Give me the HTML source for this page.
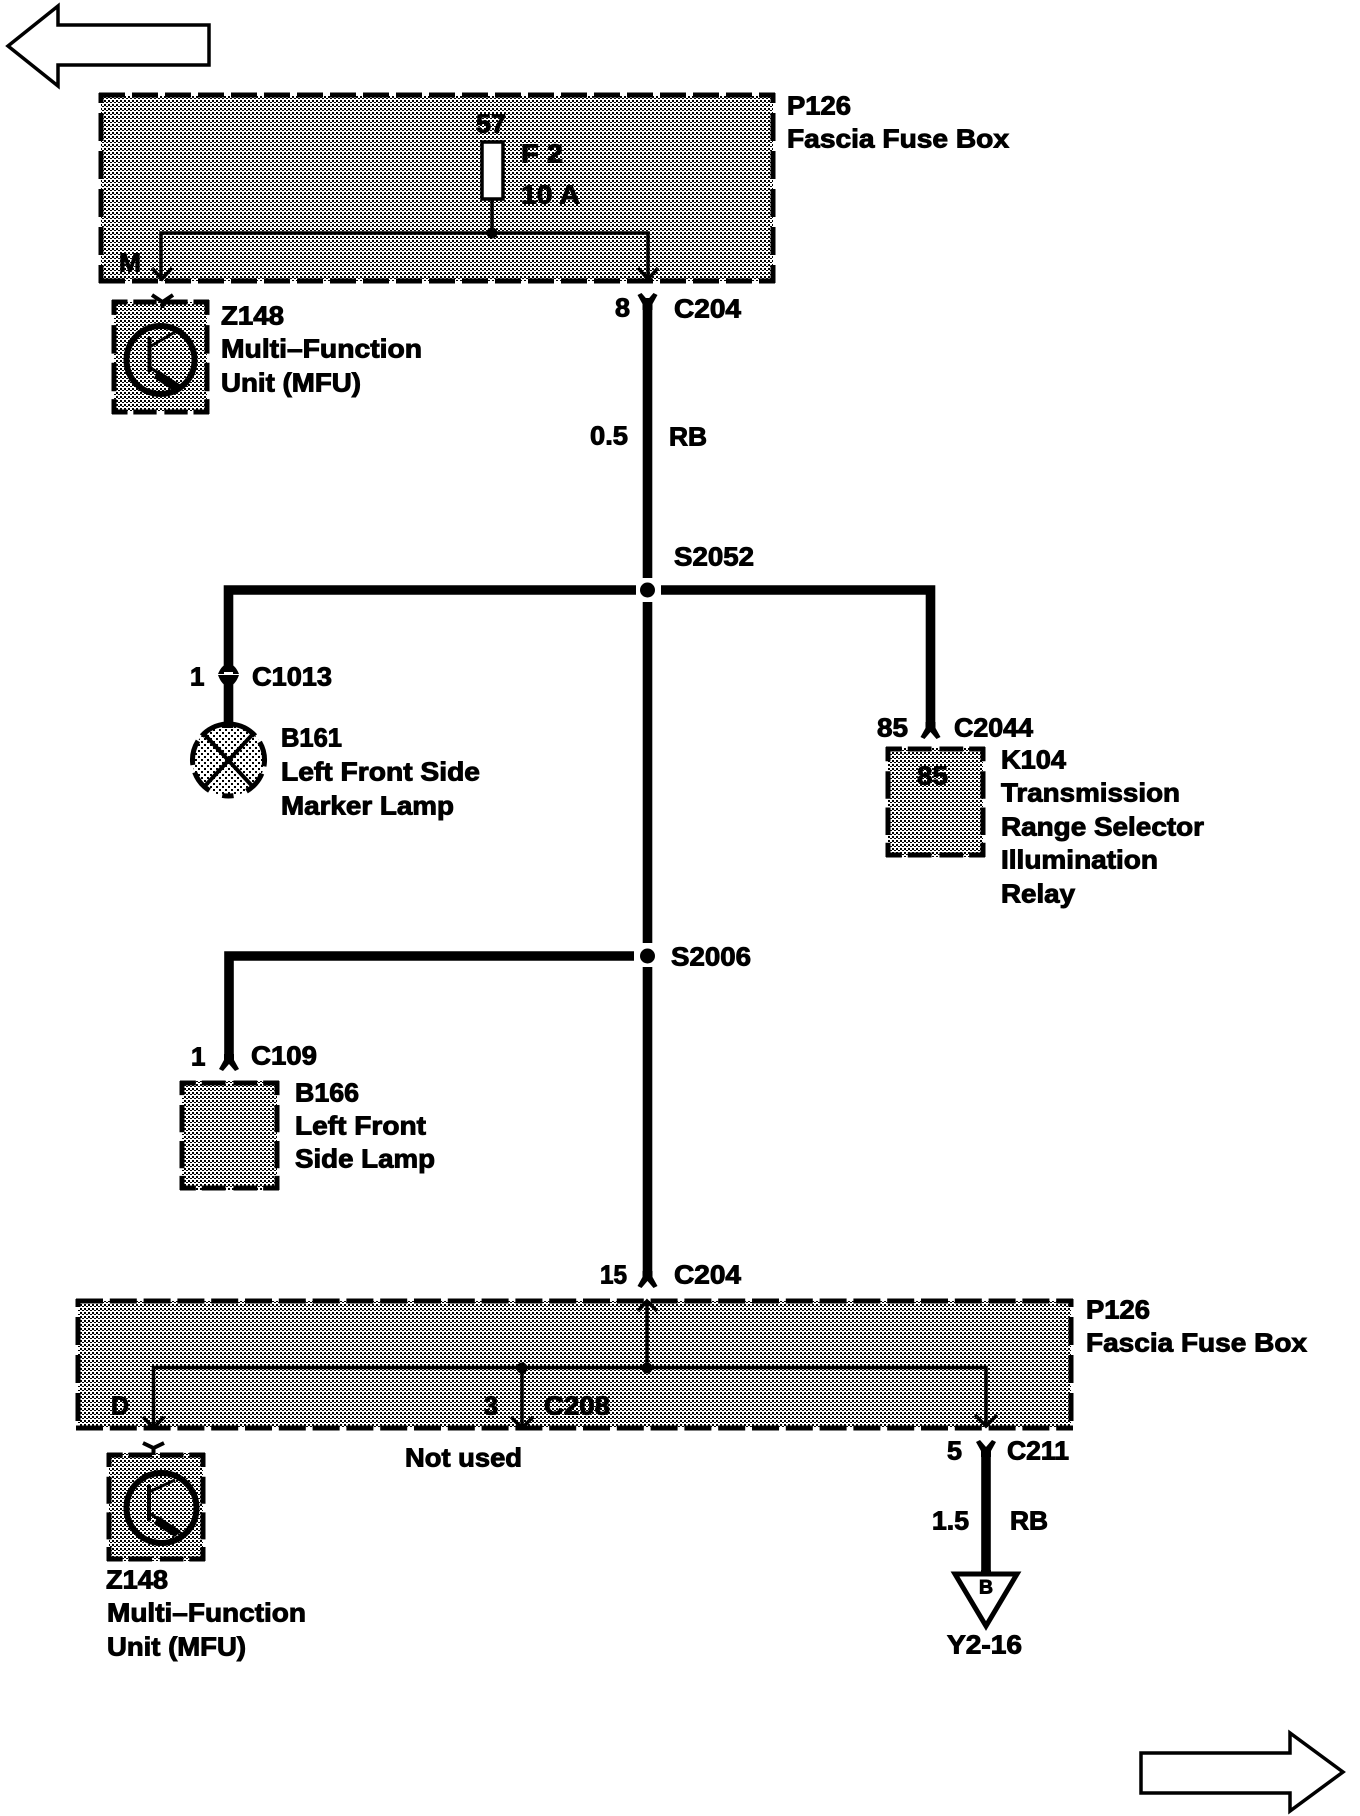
<!DOCTYPE html>
<html><head><meta charset="utf-8"><style>
html,body{margin:0;padding:0;background:#fff}
svg{display:block}
text{font-family:"Liberation Sans",sans-serif;font-weight:bold;font-size:26px;fill:#000;stroke:#000;stroke-width:.95px;transform:translate(-1px,-.5px)}
</style></head><body>
<svg xmlns="http://www.w3.org/2000/svg" width="1360" height="1816" viewBox="0 0 1360 1816">
<defs>
<pattern id="d" width="4" height="4" patternUnits="userSpaceOnUse"><path d="M0 0h2v2H0zM2 2h2v1H2z" fill="#000" shape-rendering="crispEdges"/></pattern>
<pattern id="l" width="6" height="6" patternUnits="userSpaceOnUse"><path d="M0 0h2v2H0zM3 3h2v2H3z" fill="#000" shape-rendering="crispEdges"/></pattern>
<path id="y" d="M-10 1L-6 -1L0 6L6 -1L10 1L5 10V16H-5V10Z" fill="#000"/>
</defs>
<rect width="1360" height="1816" fill="#fff"/>

<!-- page arrows -->
<path d="M8 46L58 6V25H209V65H58V86Z" fill="#fff" stroke="#000" stroke-width="3.5"/>
<path d="M1343 1772L1290 1733V1753H1141V1793H1290V1811Z" fill="#fff" stroke="#000" stroke-width="3.5"/>

<!-- top fuse box -->
<rect x="101" y="95" width="672" height="186" fill="#fff"/>
<rect x="101" y="95" width="672" height="186" fill="url(#d)"/>
<g stroke="#000" stroke-width="5" fill="none">
<line x1="99" y1="95" x2="775" y2="95" stroke-dasharray="26 7"/>
<line x1="99" y1="281" x2="775" y2="281" stroke-dasharray="26 7"/>
<line x1="101" y1="93" x2="101" y2="283" stroke-dasharray="10 10 28 10 28 10 28 10 28 10 28"/>
<line x1="773" y1="93" x2="773" y2="283" stroke-dasharray="10 10 28 10 28 10 28 10 28 10 28"/>
</g>
<rect x="482" y="142" width="21" height="57" fill="#fff" stroke="#000" stroke-width="3.5"/>
<path d="M492 199V233M161 281V233H648V281" fill="none" stroke="#000" stroke-width="3.5"/>
<circle cx="492" cy="233" r="5.5"/>
<path d="M152 268L162 279L172 268M638 268L648 279L658 268" fill="none" stroke="#000" stroke-width="3.5"/>
<text x="477" y="133" textLength="30" lengthAdjust="spacingAndGlyphs">57</text>
<text x="522" y="163" textLength="42" lengthAdjust="spacingAndGlyphs">F 2</text>
<text x="522" y="204" textLength="59" lengthAdjust="spacingAndGlyphs">10 A</text>
<text x="120" y="272" textLength="22" lengthAdjust="spacingAndGlyphs">M</text>
<text x="788" y="115" textLength="64" lengthAdjust="spacingAndGlyphs">P126</text>
<text x="788" y="148" textLength="222" lengthAdjust="spacingAndGlyphs">Fascia Fuse Box</text>

<!-- Z148 top -->
<rect x="114" y="302" width="93" height="110" fill="url(#d)"/>
<g stroke="#000" stroke-width="5" fill="none">
<line x1="112" y1="302" x2="209" y2="302" pathLength="100" stroke-dasharray="16 6 24 8 24 6 16"/>
<line x1="112" y1="412" x2="209" y2="412" pathLength="100" stroke-dasharray="16 6 24 8 24 6 16"/>
<line x1="114" y1="300" x2="114" y2="414" pathLength="100" stroke-dasharray="13 9 25 8 25 7 13"/>
<line x1="207" y1="300" x2="207" y2="414" pathLength="100" stroke-dasharray="13 9 25 8 25 7 13"/>
<circle cx="160.500" cy="360" r="34" stroke-width="6"/>
<path d="M149.500 337V372" stroke-width="4"/>
<path d="M149.500 347L180 329M149.500 367L178 387" stroke-width="3"/>
<path d="M152 295L162.500 302L173 295M162.500 302V308" stroke-width="4"/>
</g>
<path d="M158 370L181 385L175 392L154 378Z"/>
<text x="222" y="325" textLength="63" lengthAdjust="spacingAndGlyphs">Z148</text>
<text x="222" y="358" textLength="201" lengthAdjust="spacingAndGlyphs">Multi–Function</text>
<text x="222" y="392" textLength="140" lengthAdjust="spacingAndGlyphs">Unit (MFU)</text>

<!-- main wires -->
<g stroke="#000" stroke-width="9.6" fill="none">
<path d="M647.500 298V578M647.500 602V943M647.500 967V1280"/>
<path d="M636 590H228.500V666M228.500 684V728"/>
<path d="M661 590H930.500V728"/>
<path d="M634 956H229V1062"/>
<path d="M986 1447V1574"/>
</g>
<circle cx="647.500" cy="590" r="7.500"/>
<circle cx="647.500" cy="956" r="7.500"/>
<use href="#y" transform="translate(647.500 294)"/>
<use href="#y" transform="translate(647.500 1287) scale(1 -1)"/>
<use href="#y" transform="translate(930.500 738) scale(1 -1)"/>
<use href="#y" transform="translate(229 1070) scale(1 -1)"/>
<use href="#y" transform="translate(986 1441)"/>
<text x="616" y="317" textLength="15" lengthAdjust="spacingAndGlyphs">8</text>
<text x="675" y="318" textLength="67" lengthAdjust="spacingAndGlyphs">C204</text>
<text x="591" y="445" textLength="38" lengthAdjust="spacingAndGlyphs">0.5</text>
<text x="670" y="446" textLength="38" lengthAdjust="spacingAndGlyphs">RB</text>
<text x="675" y="566" textLength="80" lengthAdjust="spacingAndGlyphs">S2052</text>
<text x="672" y="966" textLength="80" lengthAdjust="spacingAndGlyphs">S2006</text>

<!-- C1013 + lamp -->
<path d="M218 674Q222 664 228.500 664Q235 664 239 674Z"/>
<path d="M218 675Q222 686 228.500 686Q235 686 239 675Z"/>
<rect x="224" y="672" width="9" height="2.500" fill="#fff"/>
<circle cx="228.500" cy="760" r="36" fill="url(#l)" stroke="none"/>
<circle cx="228.500" cy="760" r="36" fill="none" stroke="#000" stroke-width="5" pathLength="360" stroke-dasharray="96 12 40 12 38 22 18 22 38 12 40 10" transform="rotate(-138 228.500 760)"/>
<path d="M205 735L254 788M252 735L203 788" stroke="#000" stroke-width="4" fill="none"/>
<text x="191" y="686">1</text>
<text x="253" y="686" textLength="80" lengthAdjust="spacingAndGlyphs">C1013</text>
<text x="282" y="747" textLength="61" lengthAdjust="spacingAndGlyphs">B161</text>
<text x="282" y="781" textLength="199" lengthAdjust="spacingAndGlyphs">Left Front Side</text>
<text x="282" y="815" textLength="173" lengthAdjust="spacingAndGlyphs">Marker Lamp</text>

<!-- K104 -->
<rect x="888" y="747" width="95" height="110" fill="url(#d)"/>
<g stroke="#000" stroke-width="5" fill="none">
<line x1="886" y1="749" x2="985" y2="749" pathLength="100" stroke-dasharray="16 6 24 8 24 6 16"/>
<line x1="886" y1="855" x2="985" y2="855" pathLength="100" stroke-dasharray="16 6 24 8 24 6 16"/>
<line x1="888" y1="747" x2="888" y2="857" pathLength="100" stroke-dasharray="13 9 25 8 25 7 13"/>
<line x1="983" y1="747" x2="983" y2="857" pathLength="100" stroke-dasharray="13 9 25 8 25 7 13"/>
</g>
<text x="878" y="737" textLength="31" lengthAdjust="spacingAndGlyphs">85</text>
<text x="955" y="737" textLength="79" lengthAdjust="spacingAndGlyphs">C2044</text>
<text x="918" y="785" textLength="31" lengthAdjust="spacingAndGlyphs">85</text>
<text x="1002" y="769" textLength="65" lengthAdjust="spacingAndGlyphs">K104</text>
<text x="1002" y="802" textLength="179" lengthAdjust="spacingAndGlyphs">Transmission</text>
<text x="1002" y="836" textLength="203" lengthAdjust="spacingAndGlyphs">Range Selector</text>
<text x="1002" y="869" textLength="157" lengthAdjust="spacingAndGlyphs">Illumination</text>
<text x="1002" y="903" textLength="74" lengthAdjust="spacingAndGlyphs">Relay</text>

<!-- B166 -->
<rect x="182" y="1081" width="95" height="109" fill="url(#d)"/>
<g stroke="#000" stroke-width="5" fill="none">
<line x1="180" y1="1083" x2="279" y2="1083" pathLength="100" stroke-dasharray="16 6 24 8 24 6 16"/>
<line x1="180" y1="1188" x2="279" y2="1188" pathLength="100" stroke-dasharray="16 6 24 8 24 6 16"/>
<line x1="182" y1="1081" x2="182" y2="1190" pathLength="100" stroke-dasharray="13 9 25 8 25 7 13"/>
<line x1="277" y1="1081" x2="277" y2="1190" pathLength="100" stroke-dasharray="13 9 25 8 25 7 13"/>
</g>
<text x="192" y="1066">1</text>
<text x="252" y="1065" textLength="66" lengthAdjust="spacingAndGlyphs">C109</text>
<text x="296" y="1102" textLength="64" lengthAdjust="spacingAndGlyphs">B166</text>
<text x="296" y="1135" textLength="131" lengthAdjust="spacingAndGlyphs">Left Front</text>
<text x="296" y="1168" textLength="140" lengthAdjust="spacingAndGlyphs">Side Lamp</text>

<!-- bottom fuse box -->
<rect x="78" y="1301" width="993" height="127" fill="url(#d)"/>
<g stroke="#000" stroke-width="5" fill="none">
<line x1="76" y1="1301" x2="1073" y2="1301" stroke-dasharray="27 6.800"/>
<line x1="76" y1="1428" x2="1073" y2="1428" stroke-dasharray="27 6.800"/>
<line x1="78" y1="1299" x2="78" y2="1430" stroke-dasharray="8 10 28 10 28 10 28 10 8"/>
<line x1="1071" y1="1299" x2="1071" y2="1430" stroke-dasharray="8 10 28 10 28 10 28 10 8"/>
</g>
<path d="M153.500 1426V1367.500H986V1426M522 1367.500V1426M647 1367.500V1303" fill="none" stroke="#000" stroke-width="3.500"/>
<circle cx="522" cy="1368" r="5.500"/><circle cx="647" cy="1368" r="5.500"/>
<path d="M143 1417L153.500 1428L164 1417M511 1417L522 1428L533 1417M975 1415L986 1426L997 1415M638 1311L647 1301L657 1311" fill="none" stroke="#000" stroke-width="3.500"/>
<text x="601" y="1284" textLength="27" lengthAdjust="spacingAndGlyphs">15</text>
<text x="675" y="1284" textLength="67" lengthAdjust="spacingAndGlyphs">C204</text>
<text x="1087" y="1319" textLength="64" lengthAdjust="spacingAndGlyphs">P126</text>
<text x="1087" y="1352" textLength="221" lengthAdjust="spacingAndGlyphs">Fascia Fuse Box</text>
<text x="112" y="1415" textLength="18" lengthAdjust="spacingAndGlyphs">D</text>
<text x="485" y="1415" textLength="14" lengthAdjust="spacingAndGlyphs">3</text>
<text x="545" y="1415" textLength="66" lengthAdjust="spacingAndGlyphs">C208</text>
<text x="406" y="1467" textLength="117" lengthAdjust="spacingAndGlyphs">Not used</text>

<!-- Z148 bottom -->
<rect x="109" y="1453" width="94" height="108" fill="url(#d)"/>
<g stroke="#000" stroke-width="5" fill="none">
<line x1="107" y1="1455" x2="205" y2="1455" pathLength="100" stroke-dasharray="16 6 24 8 24 6 16"/>
<line x1="107" y1="1559" x2="205" y2="1559" pathLength="100" stroke-dasharray="16 6 24 8 24 6 16"/>
<line x1="109" y1="1453" x2="109" y2="1561" pathLength="100" stroke-dasharray="13 9 25 8 25 7 13"/>
<line x1="203" y1="1453" x2="203" y2="1561" pathLength="100" stroke-dasharray="13 9 25 8 25 7 13"/>
<circle cx="161.500" cy="1508" r="35" stroke-width="6"/>
<path d="M149 1485V1521" stroke-width="4"/>
<path d="M149 1492L175 1480M149 1513L180 1533" stroke-width="3"/>
<path d="M143 1443L153.500 1448L164 1443M153.500 1448V1455" stroke-width="4"/>
</g>
<path d="M158 1516L181 1531L175 1537L154 1524Z"/>
<text x="107" y="1589" textLength="62" lengthAdjust="spacingAndGlyphs">Z148</text>
<text x="108" y="1622" textLength="199" lengthAdjust="spacingAndGlyphs">Multi–Function</text>
<text x="108" y="1656" textLength="139" lengthAdjust="spacingAndGlyphs">Unit (MFU)</text>

<!-- C211 / triangle -->
<path d="M955 1574H1017L986 1626Z" fill="#fff" stroke="#000" stroke-width="5"/>
<rect x="981" y="1570" width="10" height="6"/>
<text x="980" y="1594" style="font-size:19px" textLength="14" lengthAdjust="spacingAndGlyphs">B</text>
<text x="948" y="1460" textLength="15" lengthAdjust="spacingAndGlyphs">5</text>
<text x="1008" y="1460" textLength="62" lengthAdjust="spacingAndGlyphs">C211</text>
<text x="933" y="1530" textLength="37" lengthAdjust="spacingAndGlyphs">1.5</text>
<text x="1011" y="1530" textLength="38" lengthAdjust="spacingAndGlyphs">RB</text>
<text x="948" y="1654" textLength="75" lengthAdjust="spacingAndGlyphs">Y2-16</text>
</svg>
</body></html>
